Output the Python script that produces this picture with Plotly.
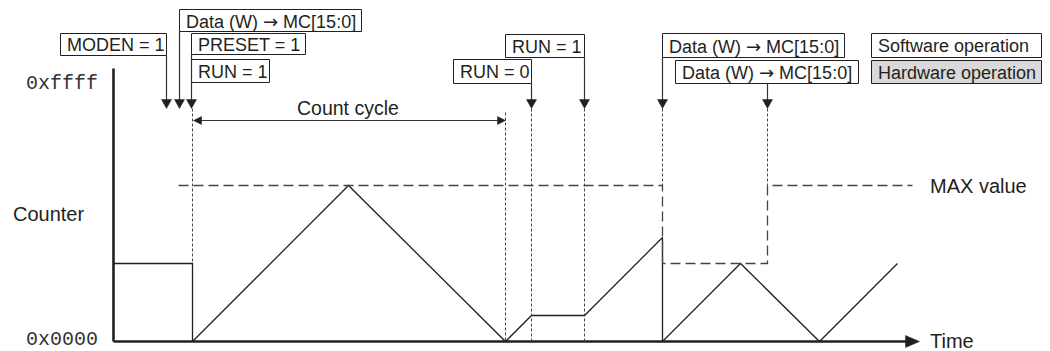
import plotly.graph_objects as go

# counter waveform (time in px along the axis, counter height above 0x0000)
time_pts = [113, 192, 192, 348, 505, 531, 584, 662, 662, 740, 819, 897]
counter_pts = [78, 78, 0, 156, 0, 26, 26, 104, 0, 78, 0, 78]

# MAX value (compare register) level
max_time = [178, 662, 662, 767, 767, 912]
max_vals = [156, 156, 78, 78, 156, 156]

ARROW = '<span style="font-family:DejaVu Sans">\u2192</span>'

# events: (time, label)
event_times = [166, 179, 191, 191, 531, 584, 662, 767]
event_labels = [
    "MODEN = 1",
    f"Data (W) {ARROW} MC[15:0]",
    "PRESET = 1",
    "RUN = 1",
    "RUN = 0",
    "RUN = 1",
    f"Data (W) {ARROW} MC[15:0]",
    f"Data (W) {ARROW} MC[15:0]",
]

BASE = 341  # pixel row of the time axis
OFF = 8  # page margin of the html body
INK = "#231f20"
FONT = "Liberation Sans, Arial, sans-serif"


def yy(p):
    # pixel row -> counter units
    return BASE - p


fig = go.Figure()

fig.add_trace(
    go.Scatter(
        x=time_pts, y=counter_pts, mode="lines",
        line=dict(color=INK, width=1.3), hoverinfo="skip", showlegend=False,
    )
)
fig.add_trace(
    go.Scatter(
        x=max_time, y=max_vals, mode="lines",
        line=dict(color="#444", width=1.3, dash="10px,5px"),
        hoverinfo="skip", showlegend=False,
    )
)

shapes = []
annotations = []


def line(x0, y0, x1, y1, color=INK, width=1.2, dash=None):
    shapes.append(dict(type="line", xref="x", yref="y", x0=x0, y0=yy(y0), x1=x1, y1=yy(y1),
                       line=dict(color=color, width=width, dash=dash), layer="above"))


def tri(path_pts, color=INK):
    d = "M " + " L ".join(f"{x},{yy(y)}" for x, y in path_pts) + " Z"
    shapes.append(dict(type="path", xref="x", yref="y", path=d,
                       fillcolor=color, line=dict(color=color, width=0.5), layer="above"))


def box(x0, x1, y0, y1, text, fill="white"):
    shapes.append(dict(type="rect", xref="x", yref="y", x0=x0, x1=x1, y0=yy(y0), y1=yy(y1),
                       fillcolor=fill, line=dict(color=INK, width=1), layer="above"))
    annotations.append(dict(x=x0 + 4, y=yy((y0 + y1) / 2 + 0.5), xref="x", yref="y", text=text,
                            showarrow=False, xanchor="left", yanchor="middle",
                            font=dict(family=FONT, size=18, color=INK)))


def down_arrow(x, top):
    line(x, top, x, 100, color="#333", width=1.2)
    tri([(x - 5, 99), (x + 5, 99), (x, 108)])


# axes
line(113, 68, 113, BASE, width=2.6)
line(113, BASE, 908, BASE, width=2.6)
tri([(905, BASE - 6), (905, BASE + 6), (919, BASE)])

# dotted event guides
dot = "3px,2px"
line(192, 108, 192, 263, color="#444", width=1, dash=dot)
line(505, 112, 505, BASE, color="#444", width=1, dash=dot)
line(531, 108, 531, BASE, color="#444", width=1, dash=dot)
line(584, 108, 584, BASE, color="#444", width=1, dash=dot)
line(662, 108, 662, 185, color="#444", width=1, dash=dot)
line(767, 108, 767, 185, color="#444", width=1, dash=dot)

# count cycle
line(199, 120, 499, 120, color="#333", width=1.2)
tri([(193, 120), (201, 116), (201, 124)])
tri([(505, 120), (497, 116), (497, 124)])
annotations.append(dict(x=347, y=yy(107), xref="x", yref="y", text="Count cycle", showarrow=False,
                        font=dict(family=FONT, size=19.5, color=INK)))

# event boxes and arrows
boxes = [
    (60, 166, 33, 55),
    (179, 361, 9, 31),
    (191, 305, 33, 54),
    (191, 269, 59, 82),
    (453, 531, 59, 83),
    (505, 584, 34, 57),
    (662, 844, 33, 57),
    (675, 858, 60, 83),
]
for (x0, x1, y0, y1), label in zip(boxes, event_labels):
    box(x0, x1, y0, y1, label)

down_arrow(event_times[0], 55)
down_arrow(event_times[1], 31)
down_arrow(event_times[2], 54)
down_arrow(event_times[4], 83)
down_arrow(event_times[5], 57)
down_arrow(event_times[6], 57)
down_arrow(event_times[7], 83)

# legend boxes
box(871, 1041, 33, 57, "Software operation")
box(871, 1041, 60, 83, "Hardware operation", fill="#d9d9d9")

# axis texts
mono = dict(family="Liberation Mono, Courier New, monospace", size=20, color="#333")
annotations.append(dict(x=99, y=yy(83), xref="x", yref="y", text="0xffff", showarrow=False,
                        xanchor="right", font=mono))
annotations.append(dict(x=99, y=yy(339), xref="x", yref="y", text="0x0000", showarrow=False,
                        xanchor="right", font=mono))
annotations.append(dict(x=10, y=yy(213), xref="x", yref="y", text="Counter", showarrow=False,
                        xanchor="left", font=dict(family=FONT, size=20, color=INK)))
annotations.append(dict(x=927, y=yy(340), xref="x", yref="y", text="Time", showarrow=False,
                        xanchor="left", font=dict(family=FONT, size=20, color=INK)))
annotations.append(dict(x=927, y=yy(185), xref="x", yref="y", text="MAX value", showarrow=False,
                        xanchor="left", font=dict(family=FONT, size=20, color=INK)))

# half-pixel shift so 1px lines land on pixel centres
fig.update_layout(
    width=1050 - OFF,
    height=351 - OFF,
    autosize=False,
    margin=dict(l=0, r=0, t=0, b=0, pad=0),
    plot_bgcolor="white",
    paper_bgcolor="white",
    shapes=shapes,
    annotations=annotations,
    xaxis=dict(range=[OFF - 0.5, 1050 - 0.5], visible=False, fixedrange=True),
    yaxis=dict(range=[yy(350.5), yy(OFF - 0.5)], visible=False, fixedrange=True),
)

fig.write_html("out.html", config={"displayModeBar": False})
